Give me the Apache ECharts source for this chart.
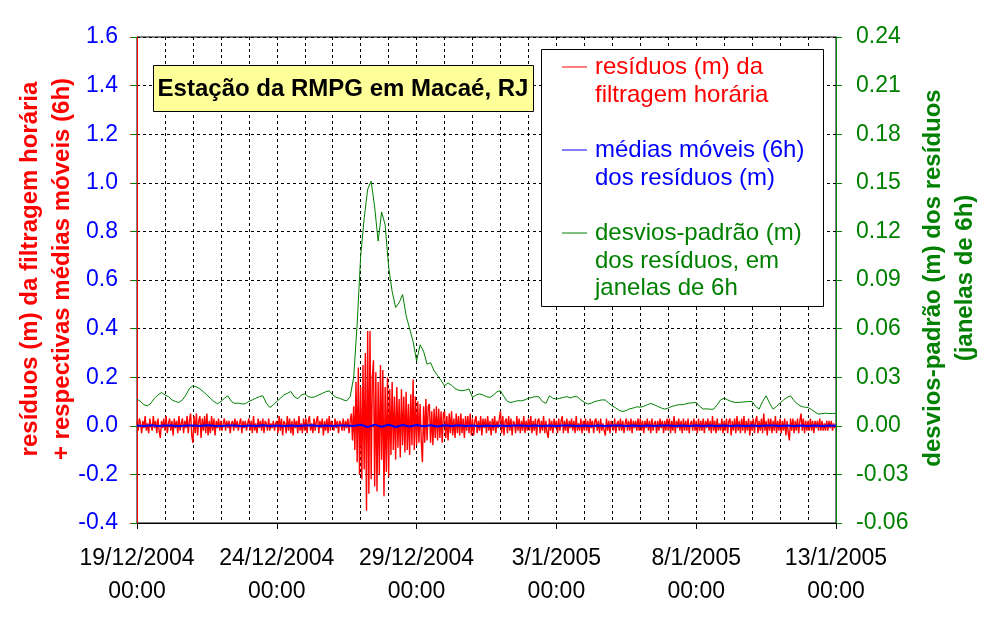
<!DOCTYPE html>
<html>
<head>
<meta charset="utf-8">
<script src="https://cdn.jsdelivr.net/npm/echarts@6/dist/echarts.min.js"></script>
<style>html,body{margin:0;padding:0;background:#fff}#c{width:990px;height:618px}</style>
</head>
<body>
<div id="c"></div>
<script>
// ---- data (hours from 19/12/2004 00:00) ----
const xTickLabels = ['19/12/2004\n00:00','24/12/2004\n00:00','29/12/2004\n00:00','3/1/2005\n00:00','8/1/2005\n00:00','13/1/2005\n00:00'];
const leftTicks = [-0.4, 1.6, 0.2];
const rightTicks = [-0.06, 0.24, 0.03];

// hourly residuals (m), one row per day
const residuosHorarios = [
 0.02,-0.02,0.03,0.01,-0.03,0.02,-0.01,0.04,-0.02,0.01,-0.03,0.03,0.00,-0.02,0.04,-0.01,0.02,-0.03,0.03,-0.02,-0.05,0.02,-0.01,0.03,
 -0.02,0.04,-0.03,0.01,0.03,-0.02,0.02,-0.04,0.03,-0.01,0.02,-0.03,0.04,-0.02,0.01,0.03,-0.03,0.02,-0.01,0.04,-0.03,0.02,0.05,-0.04,
 -0.07,0.04,-0.03,0.05,-0.04,0.02,0.04,-0.05,0.03,-0.02,0.04,-0.03,0.05,-0.04,0.02,-0.03,0.04,-0.02,0.03,-0.04,0.02,-0.01,0.03,-0.02,
 0.02,-0.02,0.01,0.03,-0.02,0.02,-0.01,0.02,-0.03,0.01,0.02,-0.02,0.03,-0.01,0.02,-0.02,0.01,0.03,-0.03,0.02,-0.01,0.02,-0.02,0.01,
 0.03,-0.02,0.02,-0.03,0.04,-0.02,0.01,-0.03,0.03,-0.01,0.02,-0.02,0.03,-0.03,0.02,0.01,-0.02,0.03,-0.02,0.01,-0.01,0.02,-0.02,0.01,
 0.02,-0.03,0.04,-0.02,0.03,-0.04,0.02,0.01,-0.03,0.04,-0.02,0.03,-0.03,0.02,-0.04,0.03,-0.01,0.02,-0.03,0.04,-0.02,0.01,-0.03,0.03,
 -0.02,0.03,-0.03,0.02,0.04,-0.02,0.01,-0.03,0.03,-0.02,0.02,0.04,-0.03,0.02,-0.01,0.03,-0.04,0.02,-0.02,0.03,-0.03,0.04,-0.02,0.02,
 0.02,-0.02,0.03,-0.01,0.02,-0.03,0.02,0.01,-0.02,0.03,-0.02,0.02,-0.01,0.03,-0.03,0.02,0.05,-0.06,0.08,-0.10,0.18,-0.15,0.24,-0.20,
 0.16,-0.22,0.25,-0.18,0.30,-0.35,0.39,-0.28,0.39,-0.22,0.20,0.27,-0.25,0.22,-0.27,0.18,-0.20,0.25,-0.14,0.23,-0.29,0.16,-0.19,0.20,
 -0.21,0.15,-0.12,0.18,-0.10,0.12,-0.14,0.16,-0.09,0.11,-0.13,0.15,-0.08,0.12,-0.11,0.14,-0.10,0.09,-0.12,0.13,-0.08,0.19,-0.10,0.12,
 -0.08,0.10,-0.07,0.09,-0.06,-0.15,0.08,-0.07,0.11,-0.06,0.08,0.09,-0.07,0.06,-0.08,0.07,-0.05,0.08,-0.06,0.07,-0.05,0.06,-0.07,0.05,
 0.06,-0.05,0.04,-0.06,0.05,-0.03,0.06,-0.04,0.03,-0.05,0.05,-0.03,0.04,-0.04,0.05,-0.03,0.03,-0.05,0.04,-0.02,0.04,-0.03,0.05,-0.04,
 0.03,-0.04,0.02,0.04,-0.03,0.02,-0.02,0.04,-0.04,0.03,-0.01,0.03,-0.03,0.04,-0.02,0.02,-0.04,0.03,-0.02,0.04,-0.03,0.02,-0.01,0.03,
 0.06,-0.03,0.04,-0.04,0.02,0.03,-0.03,0.04,-0.02,0.03,-0.04,0.02,0.01,-0.03,0.04,-0.02,0.03,-0.03,0.02,-0.02,0.04,-0.03,0.02,-0.02,
 0.03,-0.02,0.04,-0.03,0.02,-0.02,0.03,-0.04,0.02,0.03,-0.03,0.02,-0.02,0.04,-0.03,0.02,-0.03,-0.05,0.03,-0.02,0.02,-0.03,0.03,-0.01,
 0.02,-0.03,0.03,-0.02,0.02,0.04,-0.03,0.02,-0.02,0.03,-0.03,0.02,-0.01,0.03,-0.02,0.02,-0.03,0.04,-0.02,0.01,-0.02,0.03,-0.03,0.02,
 -0.02,0.03,-0.02,0.02,-0.03,0.03,-0.01,0.02,-0.03,0.02,0.03,-0.02,0.02,-0.03,0.03,-0.02,0.01,-0.02,-0.04,0.03,-0.02,0.02,-0.03,0.02,
 0.02,-0.02,0.03,-0.03,0.01,0.02,-0.02,0.03,-0.02,0.02,-0.03,0.01,0.03,-0.02,0.02,-0.02,0.03,-0.03,0.02,-0.01,0.02,-0.02,0.03,-0.02,
 0.03,-0.02,0.02,-0.03,0.02,-0.01,0.03,-0.02,0.02,-0.03,0.03,-0.02,0.01,0.02,-0.03,0.02,-0.02,0.03,-0.01,0.02,-0.03,0.02,-0.02,0.03,
 -0.02,0.03,-0.03,0.02,-0.02,0.04,-0.03,0.02,-0.01,0.03,-0.02,0.02,-0.03,0.03,-0.02,0.02,-0.02,0.03,-0.03,0.01,0.02,-0.02,0.03,-0.02,
 0.02,-0.03,0.03,-0.02,0.02,-0.02,0.03,-0.03,0.02,-0.01,0.03,-0.02,0.02,-0.03,0.04,-0.02,0.02,-0.03,0.03,-0.02,0.01,-0.02,0.03,-0.03,
 0.02,-0.02,0.03,-0.03,0.02,0.03,-0.04,0.02,-0.02,0.03,-0.03,0.04,-0.02,0.02,-0.03,0.03,-0.02,0.04,-0.03,0.02,-0.02,0.03,-0.04,0.02,
 -0.02,0.03,-0.03,0.02,0.04,-0.03,0.02,-0.02,0.03,-0.03,0.05,-0.02,0.02,-0.04,0.03,-0.02,0.03,-0.03,0.02,-0.02,0.04,-0.03,0.02,-0.02,
 0.03,-0.03,0.02,-0.02,0.03,-0.04,0.02,-0.03,-0.06,0.03,-0.02,0.03,-0.03,0.02,-0.02,0.03,-0.03,0.02,0.05,-0.02,0.03,-0.03,0.02,-0.02,
 0.02,-0.02,0.03,-0.02,0.02,-0.03,0.02,-0.01,0.02,-0.02,0.03,-0.02,0.02,-0.02,0.01,-0.02,0.02,-0.02,0.02,-0.01,0.02,-0.02,0.01,-0.01
];

// 6h moving averages (m), every 6 h
const mediasMoveis = [
 0.001,-0.001,0.002,-0.001,0.001,0.001,-0.002,0.001,0.001,-0.001,
 0.002,0.000,-0.001,0.001,0.001,-0.002,0.001,-0.001,0.002,-0.001,
 0.001,-0.001,0.001,-0.001,0.001,0.002,-0.001,0.001,-0.001,0.001,
 0.001,-0.001,0.004,-0.005,0.005,-0.004,0.004,-0.005,0.003,-0.003,
 0.003,-0.002,0.002,-0.003,0.002,-0.001,0.002,-0.001,0.001,-0.002,
 0.001,-0.001,0.001,-0.001,0.001,0.001,-0.001,0.001,-0.001,0.001,
 -0.001,0.001,0.001,-0.001,0.001,-0.001,0.001,-0.001,0.001,0.001,
 -0.001,0.001,-0.001,0.001,-0.001,0.001,0.001,-0.001,0.001,-0.001,
 0.001,-0.001,0.001,-0.001,0.001,-0.001,0.001,-0.001,0.001,-0.001,
 0.001,0.001,-0.001,0.001,-0.001,0.001,-0.001,0.001,-0.001,0.001,0.000
];

// standard deviations (m) in 6h windows, every 3 h
const desviosPadrao = [
 0.0165,0.015,0.013,0.0123,0.014,0.017,0.019,0.0206,0.019,0.018,
 0.016,0.015,0.0144,0.016,0.019,0.023,0.0247,0.024,0.0228,0.021,
 0.019,0.017,0.015,0.0136,0.015,0.017,0.0185,0.015,0.0138,0.014,
 0.0135,0.0136,0.015,0.016,0.017,0.018,0.0185,0.014,0.0113,0.013,
 0.015,0.017,0.019,0.020,0.0212,0.018,0.0167,0.019,0.0197,0.018,
 0.0175,0.018,0.019,0.020,0.021,0.0216,0.019,0.0175,0.017,0.016,
 0.0154,0.018,0.030,0.063,0.105,0.128,0.146,0.151,0.135,0.114,
 0.132,0.124,0.098,0.083,0.073,0.076,0.081,0.068,0.060,0.052,
 0.040,0.050,0.046,0.038,0.039,0.034,0.031,0.028,0.0247,0.0265,
 0.025,0.023,0.022,0.0216,0.022,0.0228,0.0175,0.019,0.0197,0.019,
 0.018,0.0175,0.019,0.021,0.0216,0.018,0.015,0.0144,0.015,0.0155,
 0.0154,0.016,0.017,0.0175,0.018,0.0179,0.015,0.0138,0.0185,0.017,
 0.0165,0.017,0.0175,0.018,0.0172,0.018,0.0179,0.016,0.0145,0.0134,
 0.014,0.015,0.0155,0.016,0.0159,0.014,0.0123,0.011,0.0095,0.0088,
 0.0095,0.0105,0.011,0.0117,0.0115,0.012,0.013,0.0138,0.013,0.012,
 0.011,0.0103,0.011,0.012,0.0125,0.013,0.013,0.0135,0.014,0.0142,
 0.0144,0.012,0.0103,0.0105,0.0102,0.0103,0.013,0.016,0.0171,0.016,
 0.015,0.0145,0.0144,0.0146,0.0148,0.015,0.015,0.012,0.0103,0.015,
 0.0185,0.014,0.0103,0.012,0.014,0.016,0.0175,0.0185,0.0155,0.0134,
 0.012,0.0115,0.0113,0.010,0.0085,0.0072,0.0075,0.0078,0.0076,0.0076,
 0.0076
];

const FONT = "'Liberation Sans', Arial, sans-serif";
const RED = '#FF0000', BLUE = '#0000FF', GREEN = '#008000';

const redData = residuosHorarios.map((v, i) => [i, v]);
const blueData = mediasMoveis.map((v, i) => [i * 6, v]);
const greenData = desviosPadrao.map((v, i) => [i * 3, v]);

const chart = echarts.init(document.getElementById('c'), null, {renderer: 'canvas'});
const dashed = {show: true, lineStyle: {color: '#000', type: [3, 3], width: 1}};

chart.setOption({
  animation: false,
  backgroundColor: '#fff',
  grid: {left: 137, right: 154, top: 37, bottom: 95, show: true, borderColor: '#000', borderWidth: 1, backgroundColor: 'transparent'},
  xAxis: {
    type: 'value', min: 0, max: 600, interval: 120,
    axisLine: {show: true, onZero: false, lineStyle: {color: '#000', width: 1}},
    axisTick: {show: true, inside: false, length: 6, lineStyle: {color: '#000'}},
    minorTick: {show: false, splitNumber: 5},
    splitLine: dashed,
    minorSplitLine: dashed,
    axisLabel: {
      margin: 19, color: '#000', fontSize: 23, fontFamily: FONT, lineHeight: 33,
      formatter: v => xTickLabels[Math.round(v / 120)] || ''
    }
  },
  yAxis: [
    {
      type: 'value', min: leftTicks[0], max: leftTicks[1], interval: leftTicks[2], position: 'left',
      axisLine: {show: true, onZero: false, lineStyle: {color: RED, width: 1}},
      axisTick: {show: true, length: 7, lineStyle: {color: RED}},
      splitLine: dashed,
      axisLabel: {margin: 19, color: BLUE, fontSize: 23, fontFamily: FONT, formatter: v => v.toFixed(1)}
    },
    {
      type: 'value', min: rightTicks[0], max: rightTicks[1], interval: rightTicks[2], position: 'right',
      axisLine: {show: true, onZero: false, lineStyle: {color: GREEN, width: 1}},
      axisTick: {show: true, length: 6, lineStyle: {color: GREEN}},
      splitLine: {show: false},
      axisLabel: {margin: 20, color: GREEN, fontSize: 23, fontFamily: FONT, formatter: v => v.toFixed(2)}
    },
    {
      type: 'value', min: rightTicks[0], max: rightTicks[1], interval: rightTicks[2], position: 'right',
      axisLine: {show: false},
      axisTick: {show: true, inside: true, length: 6, lineStyle: {color: GREEN}},
      splitLine: {show: false},
      axisLabel: {show: false}
    }
  ],
  series: [
    {name: 'resíduos', type: 'line', data: redData, yAxisIndex: 0, showSymbol: false, symbol: 'none',
     lineStyle: {color: RED, width: 1.4}, itemStyle: {color: RED}, z: 2},
    {name: 'médias', type: 'line', data: blueData, yAxisIndex: 0, showSymbol: false, symbol: 'none',
     lineStyle: {color: BLUE, width: 2}, itemStyle: {color: BLUE}, z: 3},
    {name: 'desvios', type: 'line', data: greenData, yAxisIndex: 1, showSymbol: false, symbol: 'none',
     lineStyle: {color: GREEN, width: 1}, itemStyle: {color: GREEN}, z: 4}
  ],
  graphic: [
    // title box
    {type: 'rect', z: 100, shape: {x: 153.5, y: 65.5, width: 380, height: 46}, style: {fill: '#FFFF99', stroke: '#000', lineWidth: 1}},
    {type: 'text', z: 101, x: 343, y: 89, style: {text: 'Estação da RMPG em Macaé, RJ', font: 'bold 24px ' + FONT, fill: '#000', textAlign: 'center', textVerticalAlign: 'middle'}},
    // legend box
    {type: 'rect', z: 100, shape: {x: 541.5, y: 49.5, width: 282, height: 257}, style: {fill: '#fff', stroke: '#000', lineWidth: 1}},
    {type: 'line', z: 101, shape: {x1: 562, y1: 67, x2: 587, y2: 67}, style: {stroke: RED, lineWidth: 1}},
    {type: 'text', z: 101, x: 595, y: 67, style: {text: 'resíduos (m) da', font: '24px ' + FONT, fill: RED, textVerticalAlign: 'middle'}},
    {type: 'text', z: 101, x: 595, y: 95, style: {text: 'filtragem horária', font: '24px ' + FONT, fill: RED, textVerticalAlign: 'middle'}},
    {type: 'line', z: 101, shape: {x1: 562, y1: 150, x2: 587, y2: 150}, style: {stroke: BLUE, lineWidth: 1}},
    {type: 'text', z: 101, x: 595, y: 150, style: {text: 'médias móveis (6h)', font: '24px ' + FONT, fill: BLUE, textVerticalAlign: 'middle'}},
    {type: 'text', z: 101, x: 595, y: 178, style: {text: 'dos resíduos (m)', font: '24px ' + FONT, fill: BLUE, textVerticalAlign: 'middle'}},
    {type: 'line', z: 101, shape: {x1: 562, y1: 233, x2: 587, y2: 233}, style: {stroke: GREEN, lineWidth: 1}},
    {type: 'text', z: 101, x: 595, y: 233, style: {text: 'desvios-padrão (m)', font: '24px ' + FONT, fill: GREEN, textVerticalAlign: 'middle'}},
    {type: 'text', z: 101, x: 595, y: 261, style: {text: 'dos resíduos, em', font: '24px ' + FONT, fill: GREEN, textVerticalAlign: 'middle'}},
    {type: 'text', z: 101, x: 595, y: 288, style: {text: 'janelas de 6h', font: '24px ' + FONT, fill: GREEN, textVerticalAlign: 'middle'}},
    // axis names
    {type: 'text', z: 101, x: 46, y: 269, rotation: Math.PI / 2,
     style: {text: 'resíduos (m) da filtragem horária\n+ respectivas médias móveis (6h)', font: 'bold 24px ' + FONT, fill: RED, textAlign: 'center', textVerticalAlign: 'middle', lineHeight: 32}},
    {type: 'text', z: 101, x: 949, y: 278, rotation: Math.PI / 2,
     style: {text: 'desvios-padrão (m) dos resíduos\n(janelas de 6h)', font: 'bold 24px ' + FONT, fill: GREEN, textAlign: 'center', textVerticalAlign: 'middle', lineHeight: 32}}
  ]
});
</script>
</body>
</html>
